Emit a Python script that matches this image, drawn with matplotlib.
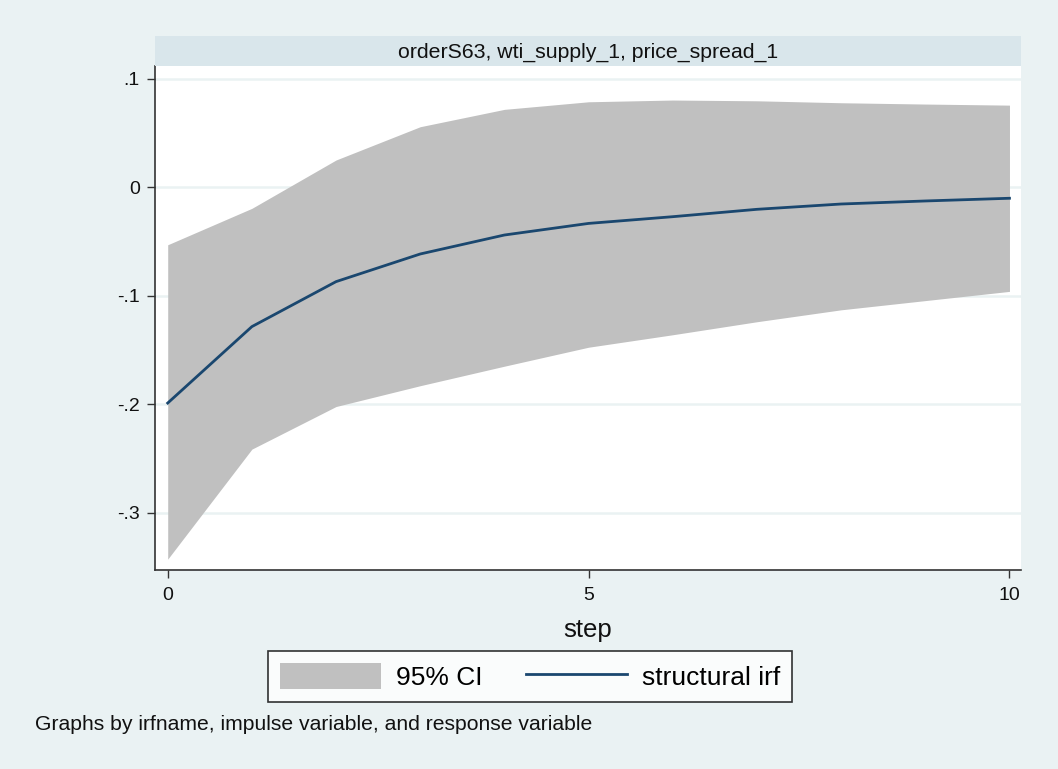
import matplotlib
matplotlib.use("Agg")
import matplotlib.pyplot as plt
from matplotlib.patches import Rectangle, Patch
from matplotlib.lines import Line2D

plt.rcParams['font.family'] = ['Liberation Sans', 'DejaVu Sans']

# Impulse-response results
steps = [0, 1, 2, 3, 4, 5, 6, 7, 8, 9, 10]
irf = [-0.199, -0.1285, -0.087, -0.0615, -0.044, -0.0333, -0.0271, -0.0203, -0.0154, -0.0126, -0.0101]
ci_upper = [-0.053, -0.0194, 0.0252, 0.0559, 0.0719, 0.0789, 0.0805, 0.0798, 0.078, 0.0768, 0.0758]
ci_lower = [-0.343, -0.2415, -0.2022, -0.183, -0.165, -0.1475, -0.136, -0.124, -0.113, -0.1045, -0.096]

yticks = [0.1, 0.0, -0.1, -0.2, -0.3]
ytick_labels = ['.1', '0', '-.1', '-.2', '-.3']
xticks = [0, 5, 10]

panel_title = 'orderS63, wti_supply_1, price_spread_1'
note = 'Graphs by irfname, impulse variable, and response variable'

BG = '#eaf2f3'
STRIP = '#d9e6eb'
FILL = '#c0c0c0'
NAVY = '#1a476f'

W, H = 1058, 769
fig = plt.figure(figsize=(W / 100, H / 100), dpi=100, facecolor=BG)

L, R, T, B = 155, 1021, 66, 570
ax = fig.add_axes([L / W, 1 - B / H, (R - L) / W, (B - T) / H])
ax.set_facecolor('white')

# title strip above the panel
fig.add_artist(Rectangle((L / W, 1 - T / H), (R - L) / W, 30 / H,
                         transform=fig.transFigure, facecolor=STRIP,
                         edgecolor='none'))
fig.text((L + R) / 2 / W, 1 - 52 / H, panel_title, ha='center', va='center',
         fontsize=15.3, color='#111111')

ax.fill_between(steps, ci_lower, ci_upper, color=FILL, linewidth=0, zorder=2)
ax.plot(steps, irf, color=NAVY, linewidth=2, zorder=3)

ax.set_xlim(-0.151, 10.137)
ax.set_ylim(-0.353, 0.1119)
ax.set_yticks(yticks)
ax.set_yticklabels(ytick_labels)
ax.set_xticks(xticks)
ax.yaxis.grid(True, color=BG, linewidth=1.8, zorder=1)
ax.set_axisbelow(True)

for s in ('top', 'right'):
    ax.spines[s].set_visible(False)
for s in ('left', 'bottom'):
    ax.spines[s].set_color('#333333')
    ax.spines[s].set_linewidth(1.2)
ax.tick_params(axis='both', direction='out', length=6, width=1,
               color='#333333', labelsize=14, labelcolor='#111111', pad=5)
ax.tick_params(axis='x', pad=6)

ax.set_xlabel('step', fontsize=18.5, color='#111111', labelpad=10)

handles = [Patch(facecolor=FILL, edgecolor='none'),
           Line2D([0], [0], color=NAVY, linewidth=2)]
leg = fig.legend(handles, ['95% CI', 'structural irf'], ncol=2,
                 loc='center', bbox_to_anchor=(530 / W, 1 - 676.5 / H),
                 fontsize=19, frameon=True, fancybox=False,
                 handlelength=3.83, handleheight=1.14, handletextpad=0.57,
                 columnspacing=1.65, borderpad=0.45, borderaxespad=0)
leg.get_frame().set_edgecolor('black')
leg.get_frame().set_linewidth(1.2)
leg.get_frame().set_facecolor('white')

fig.text(35 / W, 1 - 724 / H, note, ha='left', va='center', fontsize=15.2,
         color='#111111')

fig.savefig('out.png', dpi=100, facecolor=BG)
